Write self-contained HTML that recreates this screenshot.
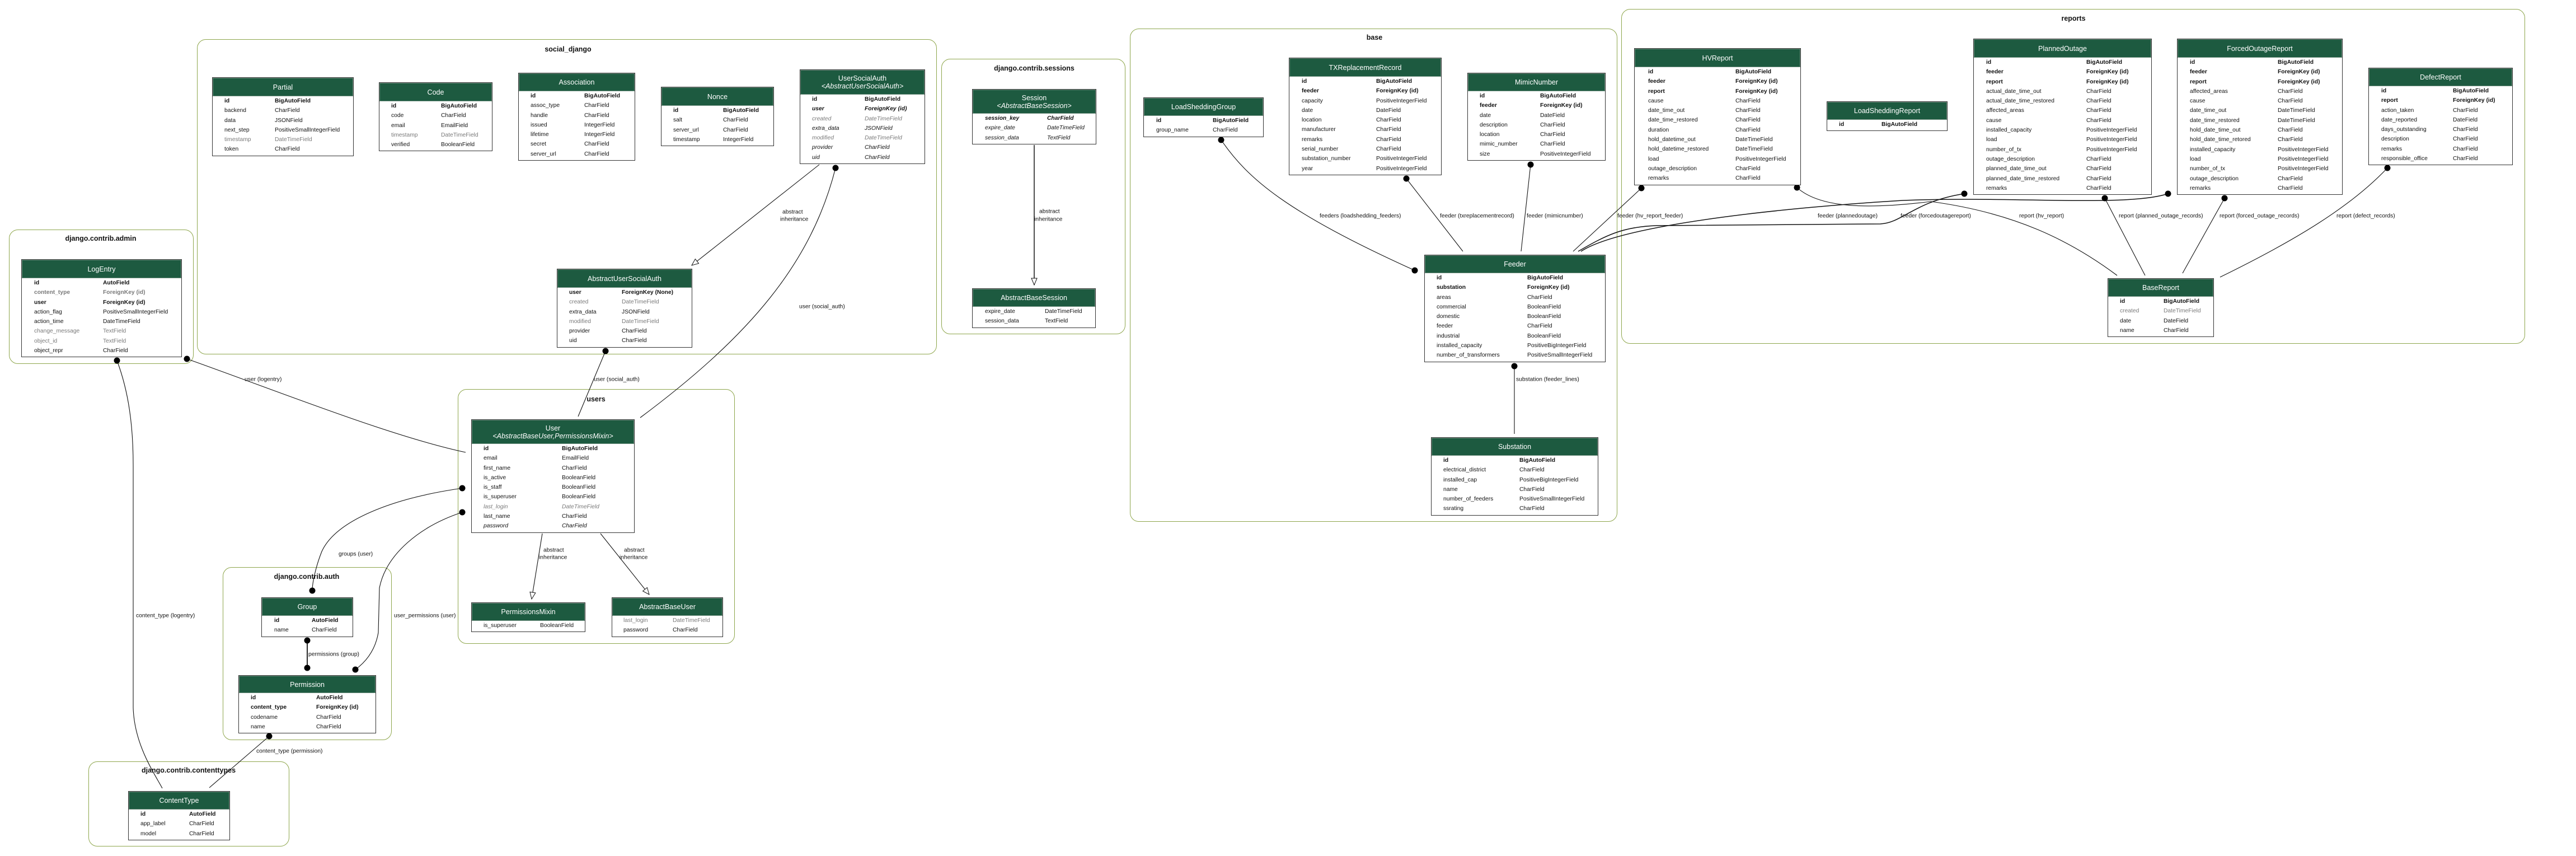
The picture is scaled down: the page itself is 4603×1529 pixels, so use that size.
<!DOCTYPE html>
<html><head><meta charset="utf-8">
<style>
body{margin:0;width:4603px;height:1529px;background:#fff;position:relative;overflow:hidden;font-family:"Liberation Sans",sans-serif}
.cl{position:absolute;border:1.5px solid #8ea64c;border-radius:16px;box-sizing:border-box}
.ct{position:absolute;font-size:12.5px;font-weight:bold;transform:translateX(-50%);white-space:nowrap;color:#111}
.t{position:absolute;border:1.5px solid #333;background:#fff;box-sizing:border-box;font-size:10.3px;color:#111;padding-bottom:2px}
.h{background:#1d5a40;color:#fff;text-align:center;font-size:12.5px;display:flex;flex-direction:column;justify-content:center;line-height:14px;border:1px solid #6f8f7f}
.r{line-height:17.3px;white-space:nowrap}
.r span{display:inline-block}
.b{font-weight:bold}.g{color:#7a7a7a}.i{font-style:italic}
svg{position:absolute;left:0;top:0}
svg text{font-family:"Liberation Sans",sans-serif;font-size:10.3px;fill:#111}
</style></head><body>

<div class="cl" style="left:352px;top:70px;width:1322px;height:563px"></div><div class="ct" style="left:1015px;top:81px">social_django</div>
<div class="cl" style="left:1682px;top:105px;width:329px;height:492px"></div><div class="ct" style="left:1848px;top:115px">django.contrib.sessions</div>
<div class="cl" style="left:2019px;top:51px;width:871px;height:881px"></div><div class="ct" style="left:2456px;top:60px">base</div>
<div class="cl" style="left:2897px;top:16px;width:1615px;height:598px"></div><div class="ct" style="left:3705px;top:26px">reports</div>
<div class="cl" style="left:16px;top:410px;width:330px;height:240px"></div><div class="ct" style="left:180px;top:419px">django.contrib.admin</div>
<div class="cl" style="left:818px;top:695px;width:495px;height:455px"></div><div class="ct" style="left:1065px;top:706px">users</div>
<div class="cl" style="left:398px;top:1013px;width:302px;height:309px"></div><div class="ct" style="left:548px;top:1023px">django.contrib.auth</div>
<div class="cl" style="left:158px;top:1360px;width:359px;height:152px"></div><div class="ct" style="left:337px;top:1369px">django.contrib.contenttypes</div>

<svg width="4603" height="1529">
<defs><marker id="ah" markerWidth="14" markerHeight="12" refX="13" refY="6" orient="auto" markerUnits="userSpaceOnUse"><polygon points="1,1 13,6 1,11" fill="#fff" stroke="#111" stroke-width="1"/></marker></defs>
<g fill="none" stroke="#111" stroke-width="1.1">
<path d="M334 641 C500 700,700 780,832 808"/>
<path d="M209 644 C230 700,238 760,238 832 L238 1264 C240 1330,275 1380,290 1408"/>
<path d="M826 872 C700 890,600 930,575 985 C565 1010,558 1040,558 1055"/>
<path d="M826 915 C750 940,690 990,678 1050 L676 1130 C670 1165,650 1185,635 1196"/>
<path d="M549 1144 L549 1193" stroke-width="1.8"/>
<path d="M481 1315 L374 1407"/>
<path d="M1464 294 L1236 474" marker-end="url(#ah)"/>
<path d="M1493 300 C1450 470,1340 600,1144 746"/>
<path d="M1082 627 L1033 744"/>
<path d="M969 953 L950 1070" marker-end="url(#ah)"/>
<path d="M1073 953 L1160 1062" marker-end="url(#ah)"/>
<path d="M1848 259 L1848 509" marker-end="url(#ah)" stroke-width="1.5"/>
<path d="M2182 250 C2230 320,2300 380,2528 483"/>
<path d="M2513 319 L2614 449"/>
<path d="M2735 294 L2718 449"/>
<path d="M2706 654 L2706 775"/>
<path d="M2933 336 L2811 449"/>
<path d="M2820 449 C2870 420,2900 405,2960 403 L3360 400 C3400 398,3420 360,3510 346" stroke-width="1.5"/>
<path d="M2825 449 C2900 400,3200 370,3400 358 C3600 350,3800 370,3874 346" stroke-width="1.5"/>
<path d="M3211 335 C3250 370,3330 375,3450 360 C3600 380,3700 430,3783 492"/>
<path d="M3761 354 L3833 492"/>
<path d="M3975 354 L3900 488"/>
<path d="M4266 300 C4200 370,4100 430,3967 495"/>
</g>
<g fill="#000">
<circle cx="334" cy="641" r="5.5"/><circle cx="209" cy="644" r="5.5"/>
<circle cx="826" cy="872" r="5.5"/><circle cx="558" cy="1055" r="5.5"/>
<circle cx="826" cy="915" r="5.5"/><circle cx="635" cy="1196" r="5.5"/>
<circle cx="549" cy="1144" r="5.5"/><circle cx="549" cy="1193" r="5.5"/>
<circle cx="481" cy="1315" r="5.5"/>
<circle cx="1493" cy="300" r="5.5"/><circle cx="1082" cy="627" r="5.5"/>
<circle cx="2182" cy="250" r="5.5"/><circle cx="2528" cy="483" r="5.5"/>
<circle cx="2513" cy="319" r="5.5"/><circle cx="2735" cy="294" r="5.5"/>
<circle cx="2706" cy="654" r="5.5"/><circle cx="2933" cy="336" r="5.5"/>
<circle cx="3510" cy="346" r="5.5"/><circle cx="3874" cy="346" r="5.5"/>
<circle cx="3211" cy="335" r="5.5"/><circle cx="3761" cy="354" r="5.5"/>
<circle cx="3975" cy="354" r="5.5"/><circle cx="4266" cy="300" r="5.5"/>
</g>
<g dominant-baseline="middle">
<text x="437" y="678">user (logentry)</text>
<text x="243" y="1100">content_type (logentry)</text>
<text x="605" y="990">groups (user)</text>
<text x="704" y="1100">user_permissions (user)</text>
<text x="551" y="1169">permissions (group)</text>
<text x="458" y="1342">content_type (permission)</text>
<text x="1398" y="379">abstract</text><text x="1394" y="392">inheritance</text>
<text x="1428" y="548">user (social_auth)</text>
<text x="1061" y="678">user (social_auth)</text>
<text x="971" y="983">abstract</text><text x="963" y="996">inheritance</text>
<text x="1115" y="983">abstract</text><text x="1107" y="996">inheritance</text>
<text x="1857" y="378">abstract</text><text x="1848" y="392">inheritance</text>
<text x="2358" y="386">feeders (loadshedding_feeders)</text>
<text x="2573" y="386">feeder (txreplacementrecord)</text>
<text x="2728" y="386">feeder (mimicnumber)</text>
<text x="2709" y="678">substation (feeder_lines)</text>
<text x="2890" y="386">feeder (hv_report_feeder)</text>
<text x="3248" y="386">feeder (plannedoutage)</text>
<text x="3396" y="386">feeder (forcedoutagereport)</text>
<text x="3608" y="386">report (hv_report)</text>
<text x="3786" y="386">report (planned_outage_records)</text>
<text x="3966" y="386">report (forced_outage_records)</text>
<text x="4175" y="386">report (defect_records)</text>
</g>
</svg>

<!-- social_django -->
<div class="t" style="left:379px;top:138px;width:253px"><div class="h" style="height:31px">Partial</div><div style="padding-left:21px">
<div class="r b"><span style="width:90px">id</span>BigAutoField</div>
<div class="r"><span style="width:90px">backend</span>CharField</div>
<div class="r"><span style="width:90px">data</span>JSONField</div>
<div class="r"><span style="width:90px">next_step</span>PositiveSmallIntegerField</div>
<div class="r g"><span style="width:90px">timestamp</span>DateTimeField</div>
<div class="r"><span style="width:90px">token</span>CharField</div></div></div>

<div class="t" style="left:677px;top:147px;width:203px"><div class="h" style="height:31px">Code</div><div style="padding-left:21px">
<div class="r b"><span style="width:89px">id</span>BigAutoField</div>
<div class="r"><span style="width:89px">code</span>CharField</div>
<div class="r"><span style="width:89px">email</span>EmailField</div>
<div class="r g"><span style="width:89px">timestamp</span>DateTimeField</div>
<div class="r"><span style="width:89px">verified</span>BooleanField</div></div></div>

<div class="t" style="left:926px;top:130px;width:209px"><div class="h" style="height:30px">Association</div><div style="padding-left:21px">
<div class="r b"><span style="width:96px">id</span>BigAutoField</div>
<div class="r"><span style="width:96px">assoc_type</span>CharField</div>
<div class="r"><span style="width:96px">handle</span>CharField</div>
<div class="r"><span style="width:96px">issued</span>IntegerField</div>
<div class="r"><span style="width:96px">lifetime</span>IntegerField</div>
<div class="r"><span style="width:96px">secret</span>CharField</div>
<div class="r"><span style="width:96px">server_url</span>CharField</div></div></div>

<div class="t" style="left:1181px;top:155px;width:202px"><div class="h" style="height:31px">Nonce</div><div style="padding-left:21px">
<div class="r b"><span style="width:89px">id</span>BigAutoField</div>
<div class="r"><span style="width:89px">salt</span>CharField</div>
<div class="r"><span style="width:89px">server_url</span>CharField</div>
<div class="r"><span style="width:89px">timestamp</span>IntegerField</div></div></div>

<div class="t" style="left:1429px;top:124px;width:224px"><div class="h" style="height:42px"><div>UserSocialAuth</div><div class="i">&lt;AbstractUserSocialAuth&gt;</div></div><div style="padding-left:21px">
<div class="r b"><span style="width:94px">id</span>BigAutoField</div>
<div class="r b i"><span style="width:94px">user</span>ForeignKey (id)</div>
<div class="r g i"><span style="width:94px">created</span>DateTimeField</div>
<div class="r i"><span style="width:94px">extra_data</span>JSONField</div>
<div class="r g i"><span style="width:94px">modified</span>DateTimeField</div>
<div class="r i"><span style="width:94px">provider</span>CharField</div>
<div class="r i"><span style="width:94px">uid</span>CharField</div></div></div>

<div class="t" style="left:995px;top:480px;width:242px"><div class="h" style="height:31px">AbstractUserSocialAuth</div><div style="padding-left:21px">
<div class="r b"><span style="width:94px">user</span>ForeignKey (None)</div>
<div class="r g"><span style="width:94px">created</span>DateTimeField</div>
<div class="r"><span style="width:94px">extra_data</span>JSONField</div>
<div class="r g"><span style="width:94px">modified</span>DateTimeField</div>
<div class="r"><span style="width:94px">provider</span>CharField</div>
<div class="r"><span style="width:94px">uid</span>CharField</div></div></div>

<!-- users -->
<div class="t" style="left:842px;top:749px;width:292px"><div class="h" style="height:41px"><div>User</div><div class="i">&lt;AbstractBaseUser,PermissionsMixin&gt;</div></div><div style="padding-left:21px">
<div class="r b"><span style="width:140px">id</span>BigAutoField</div>
<div class="r"><span style="width:140px">email</span>EmailField</div>
<div class="r"><span style="width:140px">first_name</span>CharField</div>
<div class="r"><span style="width:140px">is_active</span>BooleanField</div>
<div class="r"><span style="width:140px">is_staff</span>BooleanField</div>
<div class="r"><span style="width:140px">is_superuser</span>BooleanField</div>
<div class="r g i"><span style="width:140px">last_login</span>DateTimeField</div>
<div class="r"><span style="width:140px">last_name</span>CharField</div>
<div class="r i"><span style="width:140px">password</span>CharField</div></div></div>

<div class="t" style="left:842px;top:1076px;width:204px"><div class="h" style="height:30px">PermissionsMixin</div><div style="padding-left:21px">
<div class="r"><span style="width:101px">is_superuser</span>BooleanField</div></div></div>

<div class="t" style="left:1093px;top:1067px;width:199px"><div class="h" style="height:30px">AbstractBaseUser</div><div style="padding-left:20px">
<div class="r g"><span style="width:88px">last_login</span>DateTimeField</div>
<div class="r"><span style="width:88px">password</span>CharField</div></div></div>

<!-- admin -->
<div class="t" style="left:38px;top:463px;width:287px"><div class="h" style="height:31px">LogEntry</div><div style="padding-left:22px">
<div class="r b"><span style="width:123px">id</span>AutoField</div>
<div class="r b g"><span style="width:123px">content_type</span>ForeignKey (id)</div>
<div class="r b"><span style="width:123px">user</span>ForeignKey (id)</div>
<div class="r"><span style="width:123px">action_flag</span>PositiveSmallIntegerField</div>
<div class="r"><span style="width:123px">action_time</span>DateTimeField</div>
<div class="r g"><span style="width:123px">change_message</span>TextField</div>
<div class="r g"><span style="width:123px">object_id</span>TextField</div>
<div class="r"><span style="width:123px">object_repr</span>CharField</div></div></div>

<!-- auth -->
<div class="t" style="left:467px;top:1067px;width:164px"><div class="h" style="height:30px">Group</div><div style="padding-left:22px">
<div class="r b"><span style="width:67px">id</span>AutoField</div>
<div class="r"><span style="width:67px">name</span>CharField</div></div></div>

<div class="t" style="left:426px;top:1206px;width:246px"><div class="h" style="height:29px">Permission</div><div style="padding-left:21px">
<div class="r b"><span style="width:117px">id</span>AutoField</div>
<div class="r b"><span style="width:117px">content_type</span>ForeignKey (id)</div>
<div class="r"><span style="width:117px">codename</span>CharField</div>
<div class="r"><span style="width:117px">name</span>CharField</div></div></div>

<div class="t" style="left:229px;top:1413px;width:182px"><div class="h" style="height:30px">ContentType</div><div style="padding-left:21px">
<div class="r b"><span style="width:87px">id</span>AutoField</div>
<div class="r"><span style="width:87px">app_label</span>CharField</div>
<div class="r"><span style="width:87px">model</span>CharField</div></div></div>

<!-- sessions -->
<div class="t" style="left:1737px;top:159px;width:222px"><div class="h" style="height:41px"><div>Session</div><div class="i">&lt;AbstractBaseSession&gt;</div></div><div style="padding-left:22px">
<div class="r b i"><span style="width:111px">session_key</span>CharField</div>
<div class="r i"><span style="width:111px">expire_date</span>DateTimeField</div>
<div class="r i"><span style="width:111px">session_data</span>TextField</div></div></div>

<div class="t" style="left:1737px;top:515px;width:221px"><div class="h" style="height:30px">AbstractBaseSession</div><div style="padding-left:22px">
<div class="r"><span style="width:107px">expire_date</span>DateTimeField</div>
<div class="r"><span style="width:107px">session_data</span>TextField</div></div></div>

<!-- base -->
<div class="t" style="left:2043px;top:174px;width:215px"><div class="h" style="height:30px">LoadSheddingGroup</div><div style="padding-left:22px">
<div class="r b"><span style="width:101px">id</span>BigAutoField</div>
<div class="r"><span style="width:101px">group_name</span>CharField</div></div></div>

<div class="t" style="left:2303px;top:103px;width:273px"><div class="h" style="height:31px">TXReplacementRecord</div><div style="padding-left:22px">
<div class="r b"><span style="width:133px">id</span>BigAutoField</div>
<div class="r b"><span style="width:133px">feeder</span>ForeignKey (id)</div>
<div class="r"><span style="width:133px">capacity</span>PositiveIntegerField</div>
<div class="r"><span style="width:133px">date</span>DateField</div>
<div class="r"><span style="width:133px">location</span>CharField</div>
<div class="r"><span style="width:133px">manufacturer</span>CharField</div>
<div class="r"><span style="width:133px">remarks</span>CharField</div>
<div class="r"><span style="width:133px">serial_number</span>CharField</div>
<div class="r"><span style="width:133px">substation_number</span>PositiveIntegerField</div>
<div class="r"><span style="width:133px">year</span>PositiveIntegerField</div></div></div>

<div class="t" style="left:2622px;top:130px;width:247px"><div class="h" style="height:30px">MimicNumber</div><div style="padding-left:21px">
<div class="r b"><span style="width:108px">id</span>BigAutoField</div>
<div class="r b"><span style="width:108px">feeder</span>ForeignKey (id)</div>
<div class="r"><span style="width:108px">date</span>DateField</div>
<div class="r"><span style="width:108px">description</span>CharField</div>
<div class="r"><span style="width:108px">location</span>CharField</div>
<div class="r"><span style="width:108px">mimic_number</span>CharField</div>
<div class="r"><span style="width:108px">size</span>PositiveIntegerField</div></div></div>

<div class="t" style="left:2545px;top:455px;width:324px"><div class="h" style="height:30px">Feeder</div><div style="padding-left:21px">
<div class="r b"><span style="width:162px">id</span>BigAutoField</div>
<div class="r b"><span style="width:162px">substation</span>ForeignKey (id)</div>
<div class="r"><span style="width:162px">areas</span>CharField</div>
<div class="r"><span style="width:162px">commercial</span>BooleanField</div>
<div class="r"><span style="width:162px">domestic</span>BooleanField</div>
<div class="r"><span style="width:162px">feeder</span>CharField</div>
<div class="r"><span style="width:162px">industrial</span>BooleanField</div>
<div class="r"><span style="width:162px">installed_capacity</span>PositiveBigIntegerField</div>
<div class="r"><span style="width:162px">number_of_transformers</span>PositiveSmallIntegerField</div></div></div>

<div class="t" style="left:2557px;top:781px;width:299px"><div class="h" style="height:30px">Substation</div><div style="padding-left:21px">
<div class="r b"><span style="width:136px">id</span>BigAutoField</div>
<div class="r"><span style="width:136px">electrical_district</span>CharField</div>
<div class="r"><span style="width:136px">installed_cap</span>PositiveBigIntegerField</div>
<div class="r"><span style="width:136px">name</span>CharField</div>
<div class="r"><span style="width:136px">number_of_feeders</span>PositiveSmallIntegerField</div>
<div class="r"><span style="width:136px">ssrating</span>CharField</div></div></div>

<!-- reports -->
<div class="t" style="left:2920px;top:86px;width:298px"><div class="h" style="height:31px">HVReport</div><div style="padding-left:24px">
<div class="r b"><span style="width:156px">id</span>BigAutoField</div>
<div class="r b"><span style="width:156px">feeder</span>ForeignKey (id)</div>
<div class="r b"><span style="width:156px">report</span>ForeignKey (id)</div>
<div class="r"><span style="width:156px">cause</span>CharField</div>
<div class="r"><span style="width:156px">date_time_out</span>CharField</div>
<div class="r"><span style="width:156px">date_time_restored</span>CharField</div>
<div class="r"><span style="width:156px">duration</span>CharField</div>
<div class="r"><span style="width:156px">hold_datetime_out</span>DateTimeField</div>
<div class="r"><span style="width:156px">hold_datetime_restored</span>DateTimeField</div>
<div class="r"><span style="width:156px">load</span>PositiveIntegerField</div>
<div class="r"><span style="width:156px">outage_description</span>CharField</div>
<div class="r"><span style="width:156px">remarks</span>CharField</div></div></div>

<div class="t" style="left:3264px;top:181px;width:216px"><div class="h" style="height:30px">LoadSheddingReport</div><div style="padding-left:21px">
<div class="r b"><span style="width:76px">id</span>BigAutoField</div></div></div>

<div class="t" style="left:3526px;top:69px;width:319px"><div class="h" style="height:31px">PlannedOutage</div><div style="padding-left:22px">
<div class="r b"><span style="width:179px">id</span>BigAutoField</div>
<div class="r b"><span style="width:179px">feeder</span>ForeignKey (id)</div>
<div class="r b"><span style="width:179px">report</span>ForeignKey (id)</div>
<div class="r"><span style="width:179px">actual_date_time_out</span>CharField</div>
<div class="r"><span style="width:179px">actual_date_time_restored</span>CharField</div>
<div class="r"><span style="width:179px">affected_areas</span>CharField</div>
<div class="r"><span style="width:179px">cause</span>CharField</div>
<div class="r"><span style="width:179px">installed_capacity</span>PositiveIntegerField</div>
<div class="r"><span style="width:179px">load</span>PositiveIntegerField</div>
<div class="r"><span style="width:179px">number_of_tx</span>PositiveIntegerField</div>
<div class="r"><span style="width:179px">outage_description</span>CharField</div>
<div class="r"><span style="width:179px">planned_date_time_out</span>CharField</div>
<div class="r"><span style="width:179px">planned_date_time_restored</span>CharField</div>
<div class="r"><span style="width:179px">remarks</span>CharField</div></div></div>

<div class="t" style="left:3890px;top:69px;width:296px"><div class="h" style="height:31px">ForcedOutageReport</div><div style="padding-left:22px">
<div class="r b"><span style="width:157px">id</span>BigAutoField</div>
<div class="r b"><span style="width:157px">feeder</span>ForeignKey (id)</div>
<div class="r b"><span style="width:157px">report</span>ForeignKey (id)</div>
<div class="r"><span style="width:157px">affected_areas</span>CharField</div>
<div class="r"><span style="width:157px">cause</span>CharField</div>
<div class="r"><span style="width:157px">date_time_out</span>DateTimeField</div>
<div class="r"><span style="width:157px">date_time_restored</span>DateTimeField</div>
<div class="r"><span style="width:157px">hold_date_time_out</span>CharField</div>
<div class="r"><span style="width:157px">hold_date_time_retored</span>CharField</div>
<div class="r"><span style="width:157px">installed_capacity</span>PositiveIntegerField</div>
<div class="r"><span style="width:157px">load</span>PositiveIntegerField</div>
<div class="r"><span style="width:157px">number_of_tx</span>PositiveIntegerField</div>
<div class="r"><span style="width:157px">outage_description</span>CharField</div>
<div class="r"><span style="width:157px">remarks</span>CharField</div></div></div>

<div class="t" style="left:4232px;top:121px;width:258px"><div class="h" style="height:30px">DefectReport</div><div style="padding-left:22px">
<div class="r b"><span style="width:128px">id</span>BigAutoField</div>
<div class="r b"><span style="width:128px">report</span>ForeignKey (id)</div>
<div class="r"><span style="width:128px">action_taken</span>CharField</div>
<div class="r"><span style="width:128px">date_reported</span>DateField</div>
<div class="r"><span style="width:128px">days_outstanding</span>CharField</div>
<div class="r"><span style="width:128px">description</span>CharField</div>
<div class="r"><span style="width:128px">remarks</span>CharField</div>
<div class="r"><span style="width:128px">responsible_office</span>CharField</div></div></div>

<div class="t" style="left:3766px;top:497px;width:190px"><div class="h" style="height:30px">BaseReport</div><div style="padding-left:21px">
<div class="r b"><span style="width:78px">id</span>BigAutoField</div>
<div class="r g"><span style="width:78px">created</span>DateTimeField</div>
<div class="r"><span style="width:78px">date</span>DateField</div>
<div class="r"><span style="width:78px">name</span>CharField</div></div></div>

</body></html>
